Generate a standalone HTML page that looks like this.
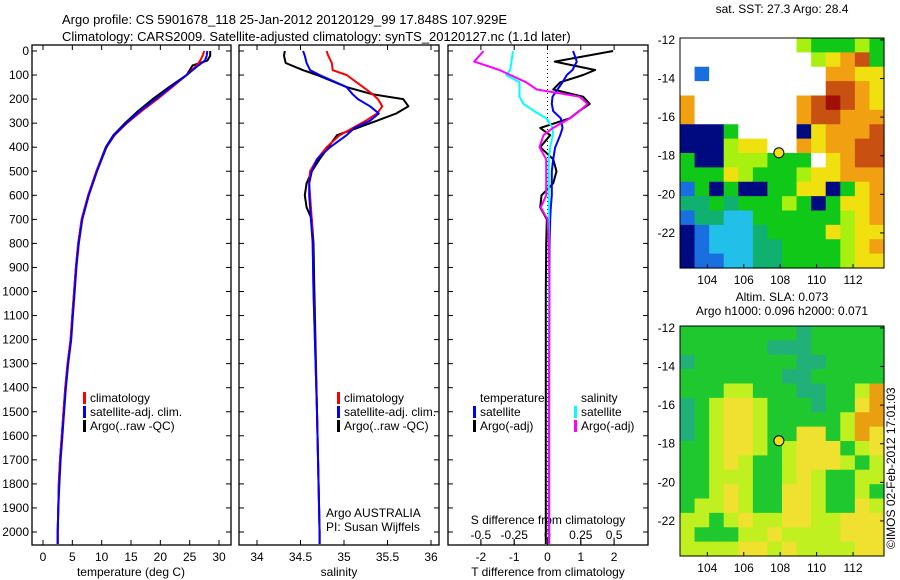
<!DOCTYPE html>
<html><head><meta charset="utf-8">
<style>
html,body{margin:0;padding:0;background:#fff;}
svg{display:block;font-family:"Liberation Sans",sans-serif;font-size:12px;}
</style></head>
<body>
<svg id="chart" width="900" height="580" viewBox="0 0 900 580">
<text x="62" y="24" font-size="13">Argo profile: CS 5901678_118 25-Jan-2012 20120129_99 17.848S 107.929E</text>
<text x="62" y="41" font-size="13">Climatology: CARS2009. Satellite-adjusted climatology: synTS_20120127.nc (1.1d later)</text>
<g id="layer"></g>
</svg>
<script>
// ---------- data ----------
const depthTicks=[0,100,200,300,400,500,600,700,800,900,1000,1100,1200,1300,1400,1500,1600,1700,1800,1900,2000];
const tempTicks=[0,5,10,15,20,25,30];
const salTicks=[34,34.5,35,35.5,36];
const tdiffTicks=[-2,-1,0,1,2];
const sdiffTicks=[-0.5,-0.25,0,0.25,0.5];
const sdiffTickLabels=["-0.5","-0.25","0","0.25","0.5"];

const tArgoDepth=[0,20,40,60,100,150,200,250,300,350,400,500,600,700,800,900,1000,1100,1200,1300,1400,1500,1600,1700,1800,1900,2000,2050];
const tArgo=[28.5,28.5,28,25.5,24.5,21.5,18.7,16.2,14,12,10.7,9.1,7.7,6.6,6.0,5.6,5.3,5.0,4.7,4.2,3.8,3.5,3.2,2.9,2.7,2.6,2.5,2.5];
const tClim=[27.5,27.2,26.8,26.2,24.5,22,19.5,16.8,14.3,12.2,10.8,9.1,7.7,6.6,6.0,5.6,5.3,5.0,4.7,4.2,3.8,3.5,3.2,2.9,2.7,2.6,2.5,2.5];
const tSat=[28,27.9,27.6,26.5,24.5,21.8,19.2,16.5,14.2,12.1,10.8,9.2,7.8,6.7,6.1,5.7,5.4,5.1,4.8,4.3,3.9,3.6,3.3,3.0,2.8,2.6,2.5,2.5];

const sDepth=[0,20,50,80,100,150,180,200,230,260,290,320,350,400,450,500,550,600,650,700,800,1000,1500,2000,2050];
const sArgo=[34.32,34.31,34.33,34.53,34.69,35.03,35.33,35.68,35.74,35.6,35.38,35.15,34.92,34.82,34.72,34.63,34.57,34.55,34.57,34.63,34.65,34.66,34.69,34.72,34.72];
const sClim=[34.8,34.82,34.86,34.87,35.03,35.22,35.33,35.39,35.44,35.38,35.25,35.1,34.95,34.8,34.69,34.61,34.6,34.61,34.62,34.63,34.64,34.65,34.69,34.72,34.72];
const sSat=[34.53,34.55,34.57,34.61,34.72,35.03,35.1,35.16,35.3,35.4,35.3,35.12,35.03,34.84,34.69,34.63,34.6,34.6,34.61,34.62,34.64,34.65,34.69,34.72,34.72];

const dDepth=[0,44,79,100,130,160,190,220,250,280,320,350,400,450,500,550,600,650,700,800,1000,1500,2000,2050];
const dtSat=[0.77,0.88,0.75,0.58,0.45,0.3,0.15,0.13,0.17,0.4,0.45,0.38,0.23,0.17,0.13,0.13,0.13,0.1,0.08,0.06,0.05,0.05,0.05,0.05];
const dtArgo=[1.97,0.22,1.43,1.07,0.38,0.17,1.07,1.27,0.95,0.67,-0.22,0.08,-0.22,0.17,0.27,0.17,-0.18,-0.22,-0.02,-0.04,-0.05,-0.05,-0.05,-0.05];
const dsArgo=[-0.48,-0.55,-0.36,-0.28,-0.16,-0.08,0.24,0.3,0.24,0.17,0.04,-0.03,-0.06,-0.01,-0.01,-0.01,-0.01,-0.05,0,0.01,0.015,0.01,0.01,0.01];
const dsSat=[-0.26,-0.27,-0.28,-0.31,-0.21,-0.21,-0.21,-0.18,-0.1,-0.01,0.04,0.04,0.02,0.01,0.01,0.01,0.01,0.01,0.01,0.01,0.01,0.01,0.01,0.01];

const lonTicks=[104,106,108,110,112];
const latTicks=[-12,-14,-16,-18,-20,-22];
const argoLon=107.929, argoLat=-17.848;
const sstGrid=[
"WWWWWWWWLGGGLG","WWWWWWWWWLYORG","WBWWWWWWWWOOYY","WWWWWWWWWWRROY",
"OWWWWWWWORDROY","OWWWWWWWORROOO","NNNGWWWWNYOOOR","NNNLYYWWOYOORR",
"GNNLLLGGGWYORR","GGGYLGGGLYYOOO","BGNGNNGGYYNGYO","TTGTGGGLGNGYYO",
"BTTCCGGGGGGLYO","NBCCCTGGGGYLYY","NBCCCTTGGGGLYO","NBBCCTTGGGGLYY"];
const slaGrid=[
"GGGGGGGGTGGGGG","GGGGGGTTTGGGGG","TGGGGGGGTTGGGG","GGGGGGGTTGGGGG",
"GGGLLGGGTTGGLO","TGLYYLGGGTGGYO","TGLYYLGGGGGLOO","TGLYYLGGYYGLOY",
"GGLYYLGLYYYGLY","GGLYLGGLYYYLGL","GGLLLGGLYLGGLL","GGLYLGGYYLGGLG",
"GLLYLGGYYLGGYL","LLGLYLLYYLLYYY","LGGGLLYLLLLYYY","LLLLYYLYLLLLYY"];
const sstColors={W:"#ffffff",N:"#000a80",B:"#1a6fe0",C:"#22c0e8",T:"#10b070",G:"#10c818",L:"#a8f010",Y:"#f0e010",O:"#f0a010",R:"#c85010",D:"#a01008"};
const slaColors={G:"#20c830",T:"#20b078",L:"#c0f020",Y:"#f0e030",O:"#e8a010"};

// ---------- helpers ----------
const NS="http://www.w3.org/2000/svg";
const layer=document.getElementById('layer');
function mk(tag,attrs,parent){const e=document.createElementNS(NS,tag);for(const k in attrs)e.setAttribute(k,attrs[k]);(parent||layer).appendChild(e);return e;}
function txt(x,y,s,anchor,parent,size){const t=mk('text',{x:x,y:y,'text-anchor':anchor||'start'},parent);if(size)t.setAttribute('font-size',size);t.textContent=s;return t;}

const yTop=51, yPer=0.2405;
const yD=d=>yTop+d*yPer;
const panels=[
 {x0:32,x1:231,f:v=>43+v*5.867},
 {x0:239,x1:439,f:v=>257+(v-34)*87},
 {x0:448,x1:648,f:v=>547.5+v*33.3, g:v=>547.5+v*133.2}
];
const boxTop=45, boxBot=545;

panels.forEach((p,i)=>{
 const grp=mk('g',{});
 
 
 const r=mk('rect',{x:p.x0,y:boxTop,width:p.x1-p.x0,height:boxBot-boxTop,fill:'none',stroke:'#000','stroke-width':1.3},grp);
 
 
 depthTicks.forEach(d=>{
  mk('line',{x1:p.x0,x2:p.x0+5,y1:yD(d),y2:yD(d),stroke:'#000'},grp);
  mk('line',{x1:p.x1-5,x2:p.x1,y1:yD(d),y2:yD(d),stroke:'#000'},grp);
 });
 p.grp=grp;
});
depthTicks.forEach(d=>{
 const t=txt(29,yD(d)+4,String(d),'end');
 
 
});
function xTicks(p,ticks,f,ly){
 ticks.forEach(v=>{
  const x=f(v);
  mk('line',{x1:x,x2:x,y1:boxBot-5,y2:boxBot,stroke:'#000'},p.grp);
  mk('line',{x1:x,x2:x,y1:boxTop,y2:boxTop+5,stroke:'#000'},p.grp);
  const t=txt(x,ly,String(v),'middle',p.grp);
  
  
 });
}
xTicks(panels[0],tempTicks,panels[0].f,561);
xTicks(panels[1],salTicks,panels[1].f,561);
xTicks(panels[2],tdiffTicks,panels[2].f,561);
sdiffTicks.forEach((v,i)=>{
 const x=panels[2].g(v);
 mk('line',{x1:x,x2:x,y1:539,y2:545,stroke:'#000'},panels[2].grp);
 const t=txt(x,539,sdiffTickLabels[i],'middle',panels[2].grp);
 
 
});
let at=txt(131,576,'temperature (deg C)','middle');
at=txt(339,576,'salinity','middle');
at=txt(548,576,'T difference from climatology','middle');
at=txt(548,524,'S difference from climatology','middle');
mk('line',{x1:547.5,x2:547.5,y1:boxTop,y2:boxBot,stroke:'#000','stroke-dasharray':'1,3'},panels[2].grp);

function line(depths,vals,f,color,name,w){
 const pts=depths.map((d,i)=>f(vals[i]).toFixed(1)+','+yD(d).toFixed(1)).join(' ');
 const pl=mk('polyline',{points:pts,fill:'none',stroke:color,'stroke-width':w||2,'stroke-linejoin':'round'});
 
 
}
line(tArgoDepth,tArgo,panels[0].f,'#000','temp-argo-line');
line(tArgoDepth,tClim,panels[0].f,'#f00','temp-climatology-line');
line(tArgoDepth,tSat,panels[0].f,'#00f','temp-satellite-line');
line(sDepth,sArgo,panels[1].f,'#000','sal-argo-line');
line(sDepth,sClim,panels[1].f,'#f00','sal-climatology-line');
line(sDepth,sSat,panels[1].f,'#00f','sal-satellite-line');
line(dDepth,dtArgo,panels[2].f,'#000','tdiff-argo-line');
line(dDepth,dtSat,panels[2].f,'#00f','tdiff-satellite-line');
line(dDepth,dsSat,panels[2].g,'#0ff','sdiff-satellite-line');
line(dDepth,dsArgo,panels[2].g,'#f0f','sdiff-argo-line');

function legend(x,y,items,name){
 const g=mk('g',{});
 
 
 items.forEach((it,i)=>{
  if(it[1]) mk('rect',{x:x,y:y+i*14-10,width:3,height:12,fill:it[1]},g);
  txt(x+7,y+i*14,it[0],'start',g);
 });
}
legend(83,402,[["climatology","#f00"],["satellite-adj. clim.","#00f"],["Argo(..raw -QC)","#000"]],'legend-temperature');
legend(337,402,[["climatology","#f00"],["satellite-adj. clim.","#00f"],["Argo(..raw -QC)","#000"]],'legend-salinity');
legend(473,402,[["temperature",null],["satellite","#00f"],["Argo(-adj)","#000"]],'legend-tdiff');
legend(574,402,[["salinity",null],["satellite","#0ff"],["Argo(-adj)","#f0f"]],'legend-sdiff');
at=txt(326,517,'Argo AUSTRALIA');
at=txt(326,531,'PI: Susan Wijffels');

// ---------- maps ----------
function map(top,grid,colors,name){
 const x0=680,x1=884,lon0=102.5,lon1=113.7,lat0=-11.9,yPerDeg=19.3;
 const bot=top+230;
 const lonX=l=>x0+(l-lon0)*(x1-x0)/(lon1-lon0);
 const latY=l=>top+(lat0-l)*yPerDeg;
 const g=mk('g',{});
 
 
 const rows=grid.length, cols=grid[0].length;
 const cw=(x1-x0)/cols, ch=(bot-top)/rows;
 grid.forEach((row,r)=>{[...row].forEach((c,k)=>{
  mk('rect',{x:(x0+k*cw).toFixed(2),y:(top+r*ch).toFixed(2),width:(cw+0.6).toFixed(2),height:(ch+0.6).toFixed(2),fill:colors[c]},g);
 });});
 const fr=mk('rect',{x:x0,y:top,width:x1-x0,height:bot-top,fill:'none',stroke:'#000'},g);
 
 
 lonTicks.forEach(l=>{
  const x=lonX(l);
  mk('line',{x1:x,x2:x,y1:bot-4,y2:bot,stroke:'#000'},g);
  const t=txt(x,bot+16,String(l),'middle',g);
  
  
 });
 latTicks.forEach(l=>{
  const y=latY(l);
  mk('line',{x1:x1-4,x2:x1,y1:y,y2:y,stroke:'#000'},g);
  const t=txt(675,y+4,String(l),'end',g);
  
  
 });
 const c=mk('circle',{cx:lonX(argoLon),cy:latY(argoLat),r:5,fill:'#f0e010',stroke:'#000','stroke-width':1},g);
 
 
}
map(38,sstGrid,sstColors,'sst-map');
map(326,slaGrid,slaColors,'sla-map');
at=txt(782,13,'sat. SST: 27.3 Argo: 28.4','middle');
at=txt(782,301,'Altim. SLA: 0.073','middle');
at=txt(782,315,'Argo h1000: 0.096 h2000: 0.071','middle');
at=mk('text',{x:0,y:0,transform:'translate(895,549) rotate(-90)'});at.textContent='©IMOS 02-Feb-2012 17:01:03';


</script>
</body></html>
